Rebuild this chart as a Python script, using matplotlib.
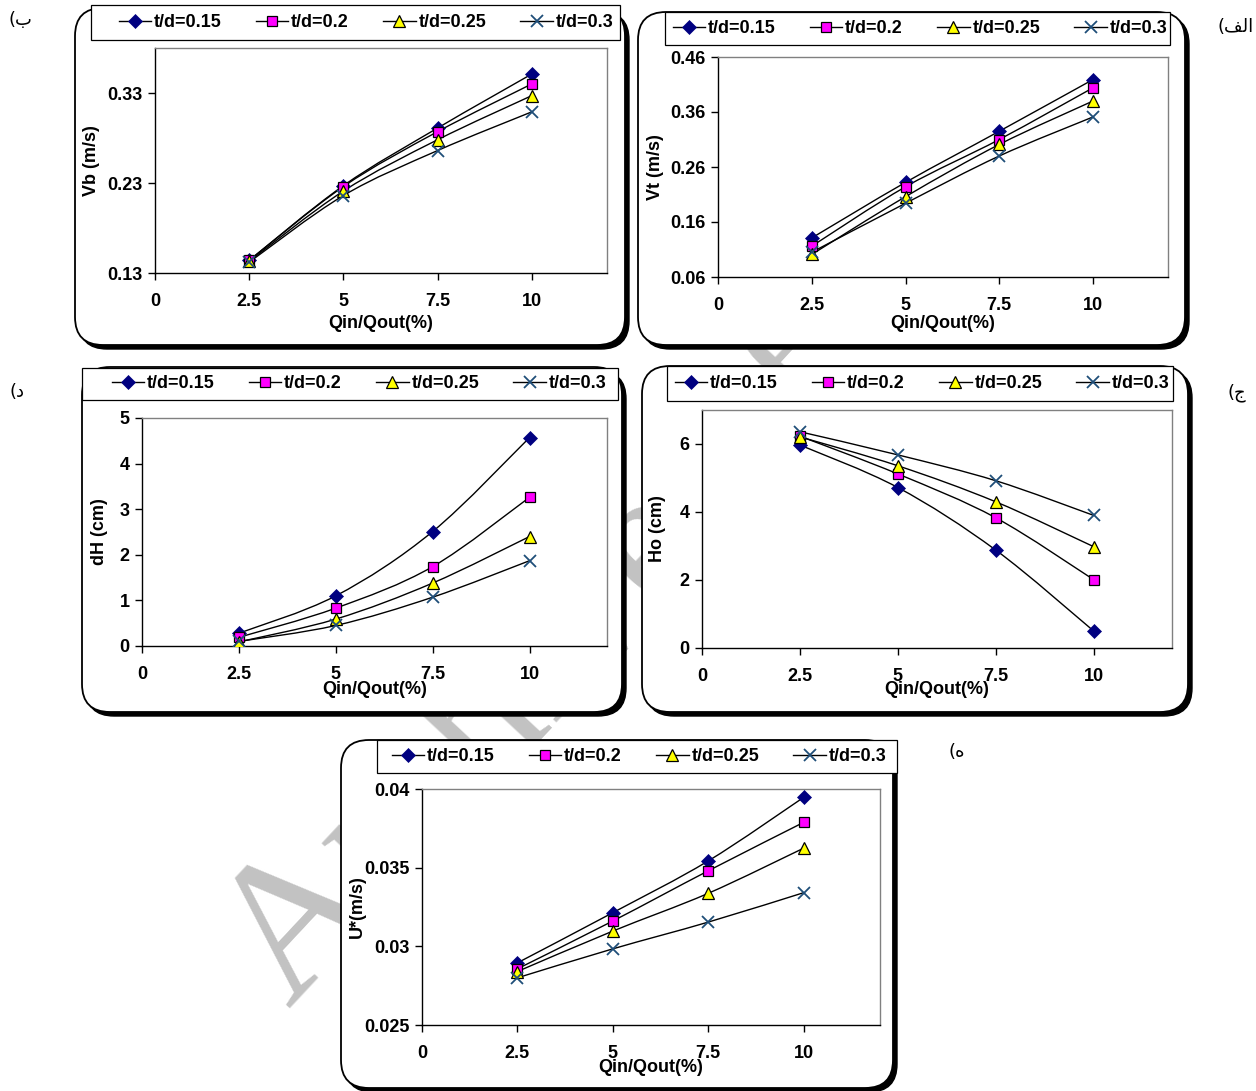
import numpy as np
import matplotlib
matplotlib.use('Agg')
import matplotlib.pyplot as plt
from matplotlib.patches import FancyBboxPatch, PathPatch, Rectangle
from matplotlib.path import Path
from matplotlib.lines import Line2D

plt.rcParams['font.family'] = ['Liberation Sans', 'DejaVu Sans']
plt.rcParams['font.weight'] = 'bold'

# data
q_ratio = [2.5, 5, 7.5, 10]
series_names = ['t/d=0.15', 't/d=0.2', 't/d=0.25', 't/d=0.3']
x_ticks = [0, 2.5, 5, 7.5, 10]
x_tick_labels = ['0', '2.5', '5', '7.5', '10']

vb_values = [[0.144, 0.227, 0.291, 0.351],
             [0.144, 0.226, 0.287, 0.340],
             [0.143, 0.221, 0.278, 0.327],
             [0.142, 0.216, 0.266, 0.309]]
vt_values = [[0.131, 0.232, 0.325, 0.419],
             [0.116, 0.224, 0.310, 0.404],
             [0.101, 0.206, 0.301, 0.380],
             [0.105, 0.194, 0.280, 0.351]]
dh_values = [[0.28, 1.10, 2.51, 4.57],
             [0.19, 0.83, 1.74, 3.26],
             [0.09, 0.59, 1.38, 2.40],
             [0.10, 0.45, 1.07, 1.87]]
ho_values = [[5.97, 4.72, 2.88, 0.50],
             [6.23, 5.12, 3.83, 2.01],
             [6.21, 5.36, 4.30, 2.98],
             [6.36, 5.68, 4.92, 3.90]]
us_values = [[0.02895, 0.03214, 0.03543, 0.03947],
             [0.02857, 0.03161, 0.03480, 0.03788],
             [0.02840, 0.03097, 0.03337, 0.03624],
             [0.02800, 0.02984, 0.03154, 0.03341]]

vb_ticks = [0.13, 0.23, 0.33]
vt_ticks = [0.06, 0.16, 0.26, 0.36, 0.46]
dh_ticks = [0, 1, 2, 3, 4, 5]
ho_ticks = [0, 2, 4, 6]
us_ticks = [0.025, 0.03, 0.035, 0.04]
us_tick_labels = ['0.025', '0.03', '0.035', '0.04']

W, H = 1256, 1091
fig = plt.figure(figsize=(W / 100, H / 100), dpi=100)
fig.patch.set_facecolor('white')


def px_rect(l, t, r, b):
    return [l / W, 1 - b / H, (r - l) / W, (b - t) / H]


def smooth_path(xs, ys):
    # bezier smoothing like the spreadsheet "smoothed line" option
    pts = np.column_stack([xs, ys]).astype(float)
    n = len(pts)
    verts = [pts[0]]
    codes = [Path.MOVETO]
    for i in range(n - 1):
        p0 = pts[max(i - 1, 0)]
        p1 = pts[i]
        p2 = pts[i + 1]
        p3 = pts[min(i + 2, n - 1)]
        verts += [p1 + (p2 - p0) / 6, p2 - (p3 - p1) / 6, p2]
        codes += [Path.CURVE4] * 3
    return Path(verts, codes)


markers = [dict(marker='D', ms=7, mfc='#000080', mec='#000080', mew=0.5),
           dict(marker='s', ms=7.5, mfc='#FF00FF', mec='black', mew=0.9),
           dict(marker='^', ms=8.5, mfc='#FFFF00', mec='black', mew=0.9),
           dict(marker='x', ms=8.5, mfc='none', mec='#1F4E79', mew=1.3)]

# watermark behind the panels
fig.text(290 / W, 1 - 1010 / H, 'Archive of SID', rotation=47,
         rotation_mode='anchor', ha='left', va='baseline', fontsize=140,
         color='#c2c2c2', family='Liberation Serif', fontweight='normal',
         zorder=0.5)


def rounded_box(l, t, r, b):
    w, h = (r - l) / 100, (b - t) / 100
    shadow = FancyBboxPatch((l / 100 + 0.04, (H - b) / 100 - 0.04), w, h,
                            boxstyle='round,pad=0,rounding_size=0.28',
                            transform=fig.dpi_scale_trans, fc='black',
                            ec='black', lw=1, zorder=1)
    box = FancyBboxPatch((l / 100, (H - b) / 100), w, h,
                         boxstyle='round,pad=0,rounding_size=0.28',
                         transform=fig.dpi_scale_trans, fc='white',
                         ec='black', lw=1.3, zorder=2)
    fig.add_artist(shadow)
    fig.add_artist(box)


def panel(box, leg_box, leg_cx, plot_box, values, ylim, yticks, ylabel,
          ytick_labels=None, xlab_y=None, ylab_x=None, colsp=1.9):
    rounded_box(*box)
    ll, lt, lr, lb = leg_box
    fig.add_artist(Rectangle((ll / W, 1 - lb / H), (lr - ll) / W, (lb - lt) / H,
                             transform=fig.transFigure, fc='white',
                             ec='black', lw=0.9, zorder=2.5))
    ax = fig.add_axes(px_rect(*plot_box))
    ax.set_zorder(3)
    ax.set_facecolor('white')
    for i, vals in enumerate(values):
        ax.add_patch(PathPatch(smooth_path(q_ratio, vals), fill=False,
                               ec='black', lw=1.0, zorder=2))
        ax.plot(q_ratio, vals, ls='none', zorder=3, **markers[i])
    ax.set_xlim(0, 12)
    ax.set_ylim(*ylim)
    ax.set_xticks(x_ticks)
    ax.set_xticklabels(x_tick_labels)
    ax.set_yticks(yticks)
    if ytick_labels is None:
        ytick_labels = [f'{v:g}' for v in yticks]
    ax.set_yticklabels(ytick_labels)
    ax.tick_params(axis='x', direction='out', length=5, width=1,
                   labelsize=13, pad=9.5)
    ax.tick_params(axis='y', direction='out', length=5, width=1,
                   labelsize=13, pad=4)
    for s in ['left', 'bottom']:
        ax.spines[s].set_color('black')
        ax.spines[s].set_linewidth(1.0)
    for s in ['top', 'right']:
        ax.spines[s].set_color('#808080')
        ax.spines[s].set_linewidth(1.0)
    l, t, r, b = plot_box
    ax.set_xlabel('Qin/Qout(%)', fontsize=13, fontweight='bold')
    ax.xaxis.label.set_va('center')
    ax.xaxis.set_label_coords(0.5, -(xlab_y - b) / (b - t))
    ax.set_ylabel(ylabel, fontsize=13, fontweight='bold')
    ax.yaxis.label.set_va('center')
    ax.yaxis.set_label_coords(-(l - ylab_x) / (r - l), 0.5)

    handles = [Line2D([], [], color='black', lw=1.0, **markers[i])
               for i in range(4)]
    leg = ax.legend(handles, series_names, loc='center', ncol=4,
                    bbox_to_anchor=(leg_cx / W, 1 - (lt + lb) / 2 / H),
                    bbox_transform=fig.transFigure, fontsize=13,
                    frameon=False, handlelength=1.8, handletextpad=0.15,
                    borderaxespad=0, borderpad=0, columnspacing=colsp)
    return ax


panel((75, 8, 625, 345), (91, 5, 620, 40), 366, (155, 48, 607, 273),
      vb_values, (0.13, 0.38), vb_ticks, 'Vb (m/s)', xlab_y=323, ylab_x=92)
panel((638, 12, 1185, 345), (665, 12, 1170, 45), 920, (718, 57, 1168, 277),
      vt_values, (0.06, 0.46), vt_ticks, 'Vt (m/s)', xlab_y=323, ylab_x=655)
panel((82, 367, 622, 712), (82, 368, 618, 400), 359, (142, 418, 607, 646),
      dh_values, (0, 5), dh_ticks, 'dH (cm)', xlab_y=690, ylab_x=99)
panel((642, 366, 1188, 712), (667, 366, 1173, 401), 922, (702, 410, 1172, 648),
      ho_values, (0, 7), ho_ticks, 'Ho (cm)', xlab_y=690, ylab_x=658)
panel((341, 740, 893, 1088), (377, 740, 897, 773), 639, (422, 789, 880, 1025),
      us_values, (0.025, 0.04), us_ticks, 'U*(m/s)',
      ytick_labels=us_tick_labels, xlab_y=1068, ylab_x=357)

# panel letters (Persian), written in visual order
arabic_labels = ['(\uFE8F', '(\uFED2\uFEDF\uFE8D', '(\uFEA9', '(\uFE9D', '(\uFEE9']
label_pos = [(20, 20), (1236, 27), (17, 392), (1237, 393), (957, 752)]
for txt, (px, py) in zip(arabic_labels, label_pos):
    fig.text(px / W, 1 - py / H, txt, ha='center', va='center', fontsize=13,
             family=['DejaVu Sans'], fontweight='normal', zorder=4)

fig.savefig('out.png', dpi=100, facecolor='white')
